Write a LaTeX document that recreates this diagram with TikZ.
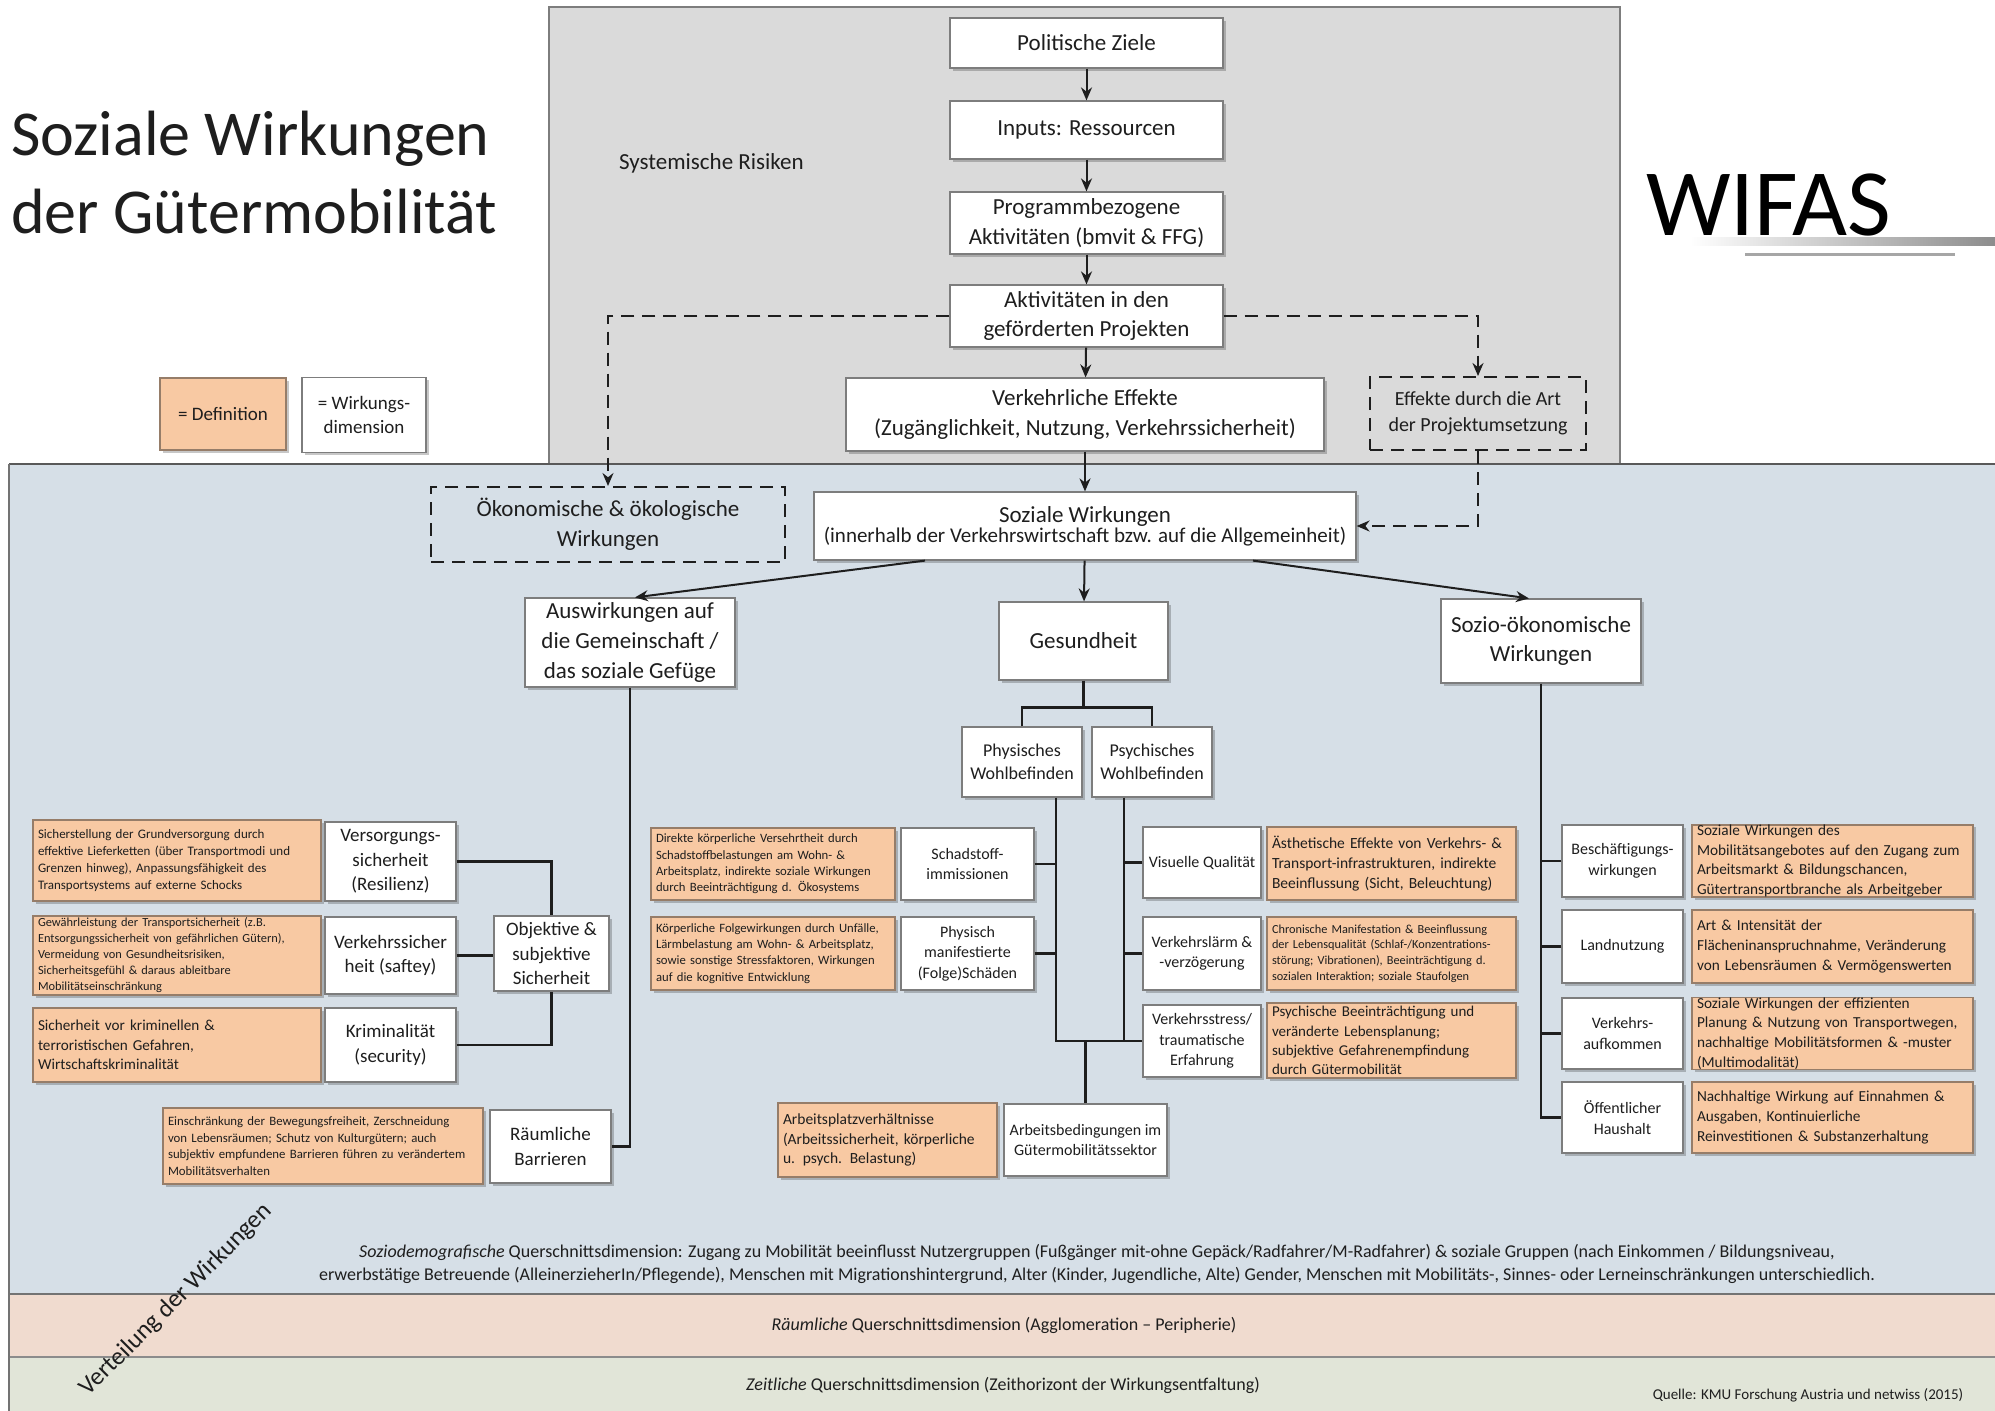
\documentclass[tikz,border=0pt]{standalone}
\usepackage{fontspec}
\setmainfont{Carlito}
\usetikzlibrary{arrows.meta,shadows,calc}

\definecolor{panelblue}{RGB}{214,223,231}
\definecolor{panelgray}{RGB}{218,218,218}
\definecolor{deffill}{RGB}{248,201,163}
\definecolor{defline}{RGB}{150,125,105}
\definecolor{bandpeach}{RGB}{240,219,207}
\definecolor{bandgreen}{RGB}{225,229,216}
\definecolor{boxline}{RGB}{125,125,125}
\definecolor{ink}{RGB}{30,30,30}

\newcommand{\fsz}[2]{\fontsize{#1}{#2}\selectfont}

\begin{document}
\begin{tikzpicture}[x=1pt,y=-1pt,
  sz/.style 2 args={minimum width=#1pt, minimum height=#2pt},
  boxshadow/.style={drop shadow={shadow xshift=2.5pt, shadow yshift=-2.5pt, opacity=0.22, fill=black}},
  wbox/.style={draw=boxline, line width=1.2pt, fill=white, align=center, inner sep=1pt, text=ink, boxshadow},
  dbox/.style={draw=defline, line width=1.2pt, fill=deffill, align=left, inner xsep=5pt, inner ysep=0pt, text=ink, boxshadow},
  dashbox/.style={draw=ink, line width=2pt, dash pattern=on 13pt off 8pt, align=center, inner sep=1pt, text=ink},
  tree/.style={draw=ink, line width=2.6pt},
  flow/.style={draw=ink, line width=2pt, -{Stealth[length=13pt,width=11pt]}},
  dflow/.style={flow, dash pattern=on 13pt off 8pt},
  txt/.style={inner sep=0pt, text=ink},
]
\useasboundingbox (0,0) rectangle (1995,1411);
\fill[white] (0,0) rectangle (1995,1411);

% ---------- background panels ----------
\fill[panelgray] (549,7) rectangle (1620,464);
\draw[boxline, line width=1.5pt] (549,464) -- (549,7) -- (1620,7) -- (1620,464);
\fill[panelblue] (9,464) rectangle (1995,1294);
\fill[bandpeach] (9,1294) rectangle (1995,1357);
\fill[bandgreen] (9,1357) rectangle (1995,1411);
\draw[black!65, line width=1.8pt] (9,464) -- (1995,464);
\draw[black!55, line width=1.8pt] (9,1294) -- (1995,1294);
\draw[black!45, line width=1.5pt] (9,1357) -- (1995,1357);
\draw[black!55, line width=1.8pt] (9,464) -- (9,1411);

% ---------- title, logo, legend ----------
\node[txt, anchor=base west, font=\fsz{64}{82}] (title1) at (11,155) {Soziale Wirkungen};
\node[txt, anchor=base west, font=\fsz{64}{82}] (title2) at (11,233) {der Gütermobilität};

\node[txt, anchor=base west, font=\fsz{95}{122}, text=black] (logo) at (1646,235) {WIFAS};
\shade[left color=white, right color=black!45] (1690,237) rectangle (1995,245);
\draw[black!35, line width=3pt] (1745,254) -- (1955,254);

\node[dbox, align=center, sz={126}{72}, font=\fsz{19}{24.5}] (legdef) at (223,414) {= Definition};
\node[wbox, sz={124}{75}, font=\fsz{19}{24.5}] (legwd) at (364,415) {= Wirkungs-\\dimension};

\node[txt, anchor=west, font=\fsz{23}{29.6}] (risk) at (619,163) {Systemische Risiken};

% ---------- programme chain ----------
\node[wbox, sz={273}{50}, font=\fsz{23}{29.6}] (pz) at (1086.5,43) {Politische Ziele};
\node[wbox, sz={273}{58}, font=\fsz{23}{29.6}] (inp) at (1086.5,130) {Inputs: Ressourcen};
\node[wbox, sz={273}{62}, font=\fsz{23}{29.6}] (prog) at (1086.5,223) {Programmbezogene\\Aktivitäten (bmvit \& FFG)};
\node[wbox, sz={273}{62}, font=\fsz{23}{29.6}] (akt) at (1086.5,316) {Aktivitäten in den\\geförderten Projekten};
\node[wbox, sz={478}{73}, font=\fsz{23}{29.6}] (verk) at (1085,414.5) {Verkehrliche Effekte\\(Zugänglichkeit, Nutzung, Verkehrssicherheit)};
\node[dashbox, sz={216}{73}, font=\fsz{20}{25.8}] (eff) at (1478,413.5) {Effekte durch die Art\\der Projektumsetzung};
\node[dashbox, sz={354}{75}, font=\fsz{23}{29.6}] (oek) at (608,524.5) {Ökonomische \& ökologische\\Wirkungen};
\node[wbox, sz={542}{68}] (soz) at (1085,526) {\fsz{23}{29.6}Soziale Wirkungen\\\fsz{21}{29.6}(innerhalb der Verkehrswirtschaft bzw. auf die Allgemeinheit)};

\draw[flow] (pz) -- (inp);
\draw[flow] (inp) -- (prog);
\draw[flow] (prog) -- (akt);
\draw[flow] (akt) -- (verk);
\draw[flow] (verk) -- (soz);
\draw[dflow] (akt.west) -| (oek.north);
\draw[dflow] (akt.east) -| (eff.north);
\draw[dflow] (eff.south) |- (soz.east);

% ---------- impact areas ----------
\node[wbox, sz={210}{89}, font=\fsz{23}{29.6}] (gem) at (630,642.5) {Auswirkungen auf\\die Gemeinschaft /\\das soziale Gefüge};
\node[wbox, sz={169}{78}, font=\fsz{23}{29.6}] (ges) at (1083.5,641) {Gesundheit};
\node[wbox, sz={200}{84}, font=\fsz{23}{29.6}] (sozoek) at (1541,641) {Sozio-ökonomische\\Wirkungen};

\draw[flow] ([xshift=-160pt]soz.south) -- ([xshift=5pt]gem.north);
\draw[flow] (soz) -- (ges);
\draw[flow] ([xshift=168pt]soz.south) -- ([xshift=-12pt]sozoek.north);

% ---------- community branch ----------
\node[dbox, sz={288}{81}, text width=278pt, font=\fsz{13}{17}] (d1) at (177,860.5) {Sicherstellung der Grundversorgung durch\\effektive Lieferketten (über Transportmodi und\\Grenzen hinweg), Anpassungsfähigkeit des\\Transportsystems auf externe Schocks};
\node[wbox, sz={131}{79}, font=\fsz{19}{24.5}] (vers) at (390.5,861.5) {Versorgungs-\\sicherheit\\(Resilienz)};
\node[dbox, sz={288}{79}, text width=278pt, font=\fsz{12.4}{16}] (d2) at (177,955.5) {Gewährleistung der Transportsicherheit (z.B.\\Entsorgungssicherheit von gefährlichen Gütern),\\Vermeidung von Gesundheitsrisiken,\\Sicherheitsgefühl \& daraus ableitbare\\Mobilitätseinschränkung};
\node[wbox, sz={131}{77}, font=\fsz{19}{24.5}] (vsich) at (390.5,955.5) {Verkehrssicher\\heit (saftey)};
\node[dbox, sz={288}{74}, text width=278pt, font=\fsz{15.2}{19.5}] (d3) at (177,1045) {Sicherheit vor kriminellen \&\\terroristischen Gefahren,\\Wirtschaftskriminalität};
\node[wbox, sz={131}{74}, font=\fsz{19}{24.5}] (krim) at (390.5,1045) {Kriminalität\\(security)};
\node[wbox, sz={115}{75}, font=\fsz{19}{24.5}] (obj) at (551.5,953.5) {Objektive \&\\subjektive\\Sicherheit};
\node[dbox, sz={320}{76}, text width=310pt, font=\fsz{12.8}{16.5}] (d4) at (323,1146) {Einschränkung der Bewegungsfreiheit, Zerschneidung\\von Lebensräumen; Schutz von Kulturgütern; auch\\subjektiv empfundene Barrieren führen zu verändertem\\Mobilitätsverhalten};
\node[wbox, sz={121}{73}, font=\fsz{19}{24.5}] (raeum) at (550.5,1146.5) {Räumliche\\Barrieren};

\draw[tree] (gem.south) |- (raeum.east);
\draw[tree] (vers.east) -| (obj.north);
\draw[tree] (vsich.east) -- (vsich.east -| obj.west);
\draw[tree] (krim.east) -| (obj.south);

% ---------- health branch ----------
\node[wbox, sz={120}{70}, font=\fsz{18}{23.2}] (phys) at (1022,762) {Physisches\\Wohlbefinden};
\node[wbox, sz={120}{70}, font=\fsz{18}{23.2}] (psych) at (1152,762) {Psychisches\\Wohlbefinden};
\coordinate (gsplit) at ($(ges.south)+(0,27)$);
\draw[tree] (ges.south) -- (gsplit);
\draw[tree] (phys.north) |- (gsplit) -| (psych.north);

\node[dbox, sz={244}{72}, text width=234pt, font=\fsz{12.7}{16.3}] (d5) at (773,864) {Direkte körperliche Versehrtheit durch\\Schadstoffbelastungen am Wohn- \&\\Arbeitsplatz, indirekte soziale Wirkungen\\durch Beeinträchtigung d. Ökosystems};
\node[wbox, sz={133}{72}, font=\fsz{16}{20.6}] (schad) at (967.5,864) {Schadstoff-\\immissionen};
\node[dbox, sz={244}{73}, text width=234pt, font=\fsz{12.7}{16.3}] (d6) at (773,953.5) {Körperliche Folgewirkungen durch Unfälle,\\Lärmbelastung am Wohn- \& Arbeitsplatz,\\sowie sonstige Stressfaktoren, Wirkungen\\auf die kognitive Entwicklung};
\node[wbox, sz={133}{73}, font=\fsz{16}{20.6}] (physm) at (967.5,953.5) {Physisch\\manifestierte\\(Folge)Schäden};

\node[wbox, sz={118}{71}, font=\fsz{16}{20.6}] (vis) at (1202,862.5) {Visuelle Qualität};
\node[dbox, sz={249}{73}, text width=239pt, font=\fsz{15.5}{19.8}] (d7) at (1391.5,863.5) {Ästhetische Effekte von Verkehrs- \&\\Transport-infrastrukturen, indirekte\\Beeinflussung (Sicht, Beleuchtung)};
\node[wbox, sz={118}{73}, font=\fsz{16}{20.6}] (laerm) at (1202,953.5) {Verkehrslärm \&\\-verzögerung};
\node[dbox, sz={249}{73}, text width=239pt, font=\fsz{12.3}{15.8}] (d8) at (1391.5,953.5) {Chronische Manifestation \& Beeinflussung\\der Lebensqualität (Schlaf-/Konzentrations-\\störung; Vibrationen), Beeinträchtigung d.\\sozialen Interaktion; soziale Staufolgen};
\node[wbox, sz={118}{72}, font=\fsz{16}{20.6}] (stress) at (1202,1041) {Verkehrsstress/\\traumatische\\Erfahrung};
\node[dbox, sz={249}{75}, text width=239pt, font=\fsz{15}{19.3}] (d9) at (1391.5,1040.5) {Psychische Beeinträchtigung und\\veränderte Lebensplanung;\\subjektive Gefahrenempfindung\\durch Gütermobilität};

\node[dbox, sz={219}{74}, text width=209pt, font=\fsz{15.5}{19.8}] (d10) at (887.5,1140) {Arbeitsplatzverhältnisse\\(Arbeitssicherheit, körperliche\\u. psych. Belastung)};
\node[wbox, sz={163}{72}, font=\fsz{16}{20.6}] (arb) at (1085.5,1140) {Arbeitsbedingungen im\\Gütermobilitätssektor};

\coordinate (phyv) at ([xshift=34pt]phys.south);
\coordinate (psyv) at ([xshift=-28pt]psych.south);
\draw[tree] (phyv) |- (stress.west);
\draw[tree] (psyv) -- (psyv |- stress.west);
\draw[tree] (schad.east) -- (schad.east -| phyv);
\draw[tree] (physm.east) -- (physm.east -| phyv);
\draw[tree] (vis.west) -- (vis.west -| psyv);
\draw[tree] (laerm.west) -- (laerm.west -| psyv);
\draw[tree] (arb.north |- stress.west) -- (arb.north);

% ---------- socio-economic branch ----------
\node[wbox, sz={121}{72}, font=\fsz{16}{20.6}] (bes) at (1622.5,861) {Beschäftigungs-\\wirkungen};
\node[dbox, sz={281}{72}, text width=271pt, font=\fsz{15.3}{19.6}] (d11) at (1832.5,861) {Soziale Wirkungen des\\Mobilitätsangebotes auf den Zugang zum\\Arbeitsmarkt \& Bildungschancen,\\Gütertransportbranche als Arbeitgeber};
\node[wbox, sz={121}{73}, font=\fsz{16}{20.6}] (land) at (1622.5,946.5) {Landnutzung};
\node[dbox, sz={281}{73}, text width=271pt, font=\fsz{15.3}{19.6}] (d12) at (1832.5,946.5) {Art \& Intensität der\\Flächeninanspruchnahme, Veränderung\\von Lebensräumen \& Vermögenswerten};
\node[wbox, sz={121}{71}, font=\fsz{16}{20.6}] (vaufk) at (1622.5,1033.5) {Verkehrs-\\aufkommen};
\node[dbox, sz={281}{71}, text width=271pt, font=\fsz{15.3}{19.6}] (d13) at (1832.5,1033.5) {Soziale Wirkungen der effizienten\\Planung \& Nutzung von Transportwegen,\\nachhaltige Mobilitätsformen \& -muster\\(Multimodalität)};
\node[wbox, sz={121}{71}, font=\fsz{16}{20.6}] (oeff) at (1622.5,1117.5) {Öffentlicher\\Haushalt};
\node[dbox, sz={281}{71}, text width=271pt, font=\fsz{15.3}{19.6}] (d14) at (1832.5,1117.5) {Nachhaltige Wirkung auf Einnahmen \&\\Ausgaben, Kontinuierliche\\Reinvestitionen \& Substanzerhaltung};

\draw[tree] (sozoek.south) |- (oeff.west);
\draw[tree] (bes.west) -- (bes.west -| sozoek.south);
\draw[tree] (land.west) -- (land.west -| sozoek.south);
\draw[tree] (vaufk.west) -- (vaufk.west -| sozoek.south);

% ---------- cross-sectional dimensions ----------
\node[txt, align=center, font=\fsz{18}{23.2}] (sozdim) at (1097,1264) {\textit{Soziodemografische} Querschnittsdimension: Zugang zu Mobilität beeinflusst Nutzergruppen (Fußgänger mit-ohne Gepäck/Radfahrer/M-Radfahrer) \& soziale Gruppen (nach Einkommen / Bildungsniveau,\\erwerbstätige Betreuende (AlleinerzieherIn/Pflegende), Menschen mit Migrationshintergrund, Alter (Kinder, Jugendliche, Alte) Gender, Menschen mit Mobilitäts-, Sinnes- oder Lerneinschränkungen unterschiedlich.};
\node[txt, font=\fsz{18}{23.2}] (raumdim) at (1004,1325) {\textit{Räumliche} Querschnittsdimension (Agglomeration – Peripherie)};
\node[txt, font=\fsz{18}{23.2}] (zeitdim) at (1003,1385) {\textit{Zeitliche} Querschnittsdimension (Zeithorizont der Wirkungsentfaltung)};
\node[txt, font=\fsz{15}{19.3}] (quelle) at (1808,1395) {Quelle: KMU Forschung Austria und netwiss (2015)};
\node[txt, rotate=45, font=\fsz{25}{32}] (vert) at (176,1300) {Verteilung der Wirkungen};

\end{tikzpicture}
\end{document}
